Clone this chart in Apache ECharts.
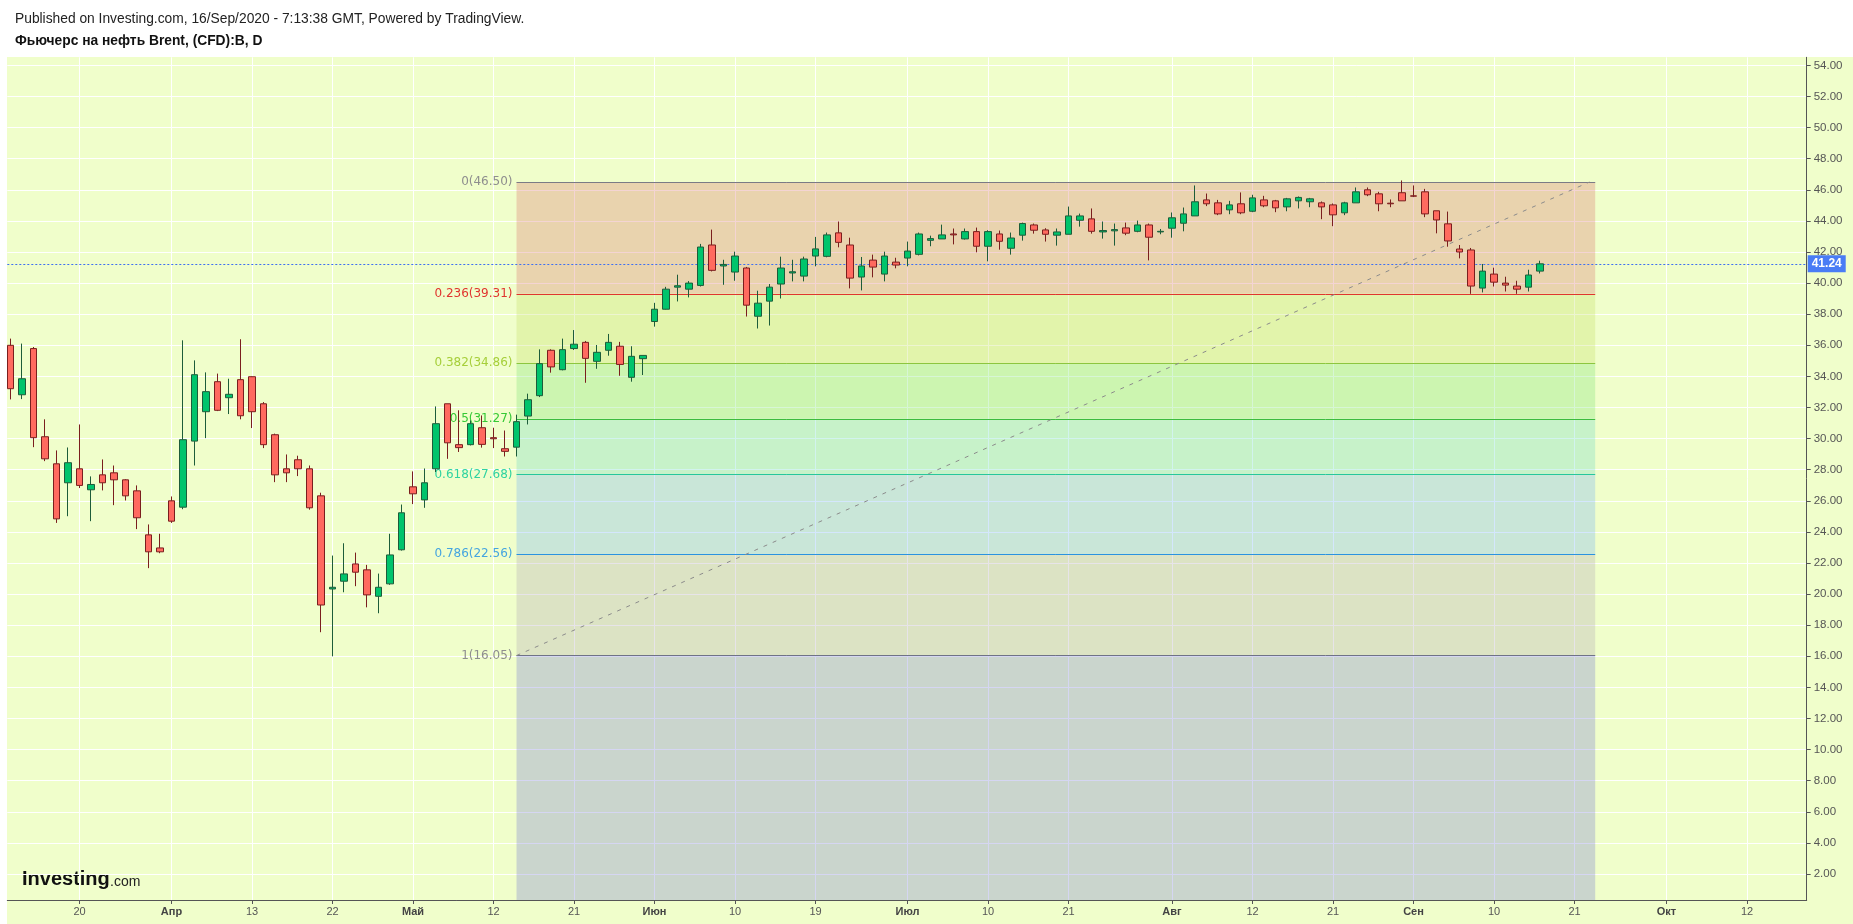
<!DOCTYPE html>
<html><head><meta charset="utf-8">
<script src="https://cdn.jsdelivr.net/npm/echarts@6/dist/echarts.min.js"></script>
<style>
html,body{margin:0;padding:0;background:#fff;}
#wrap{position:relative;width:1853px;height:924px;overflow:hidden;}
#panel{position:absolute;left:7px;top:57px;right:0;bottom:0;background:#F0FECB;}
#chart{position:absolute;left:0;top:0;width:1853px;height:924px;}
</style></head>
<body><div id="wrap"><div id="panel"></div><div id="chart"></div></div>
<script>
// ---- data ----
const dates = ['03-12','03-13','03-16','03-17','03-18','03-19','03-20','03-23','03-24','03-25','03-26','03-27','03-30','03-31',
'04-01','04-02','04-03','04-06','04-07','04-08','04-09','04-13','04-14','04-15','04-16','04-17','04-20','04-21','04-22','04-23','04-24','04-27','04-28','04-29','04-30',
'05-01','05-04','05-05','05-06','05-07','05-08','05-11','05-12','05-13','05-14','05-15','05-18','05-19','05-20','05-21','05-22','05-25','05-26','05-27','05-28','05-29',
'06-01','06-02','06-03','06-04','06-05','06-08','06-09','06-10','06-11','06-12','06-15','06-16','06-17','06-18','06-19','06-22','06-23','06-24','06-25','06-26','06-29','06-30',
'07-01','07-02','07-03','07-06','07-07','07-08','07-09','07-10','07-13','07-14','07-15','07-16','07-17','07-20','07-21','07-22','07-23','07-24','07-27','07-28','07-29','07-30','07-31',
'08-03','08-04','08-05','08-06','08-07','08-10','08-11','08-12','08-13','08-14','08-17','08-18','08-19','08-20','08-21','08-24','08-25','08-26','08-27','08-28','08-31',
'09-01','09-02','09-03','09-04','09-07','09-08','09-09','09-10','09-11','09-14','09-15','09-16'];
const firstIndex = -14; // trading-day index of the first candle (0 = 1 Apr)
const open = [36.00,32.82,35.79,30.12,28.38,27.16,28.06,26.71,27.67,27.80,27.35,26.64,23.81,22.97,
26.00,25.59,29.84,31.73,33.66,32.63,33.79,33.98,32.24,30.25,28.06,28.64,28.06,26.32,20.33,20.83,21.94,21.56,19.86,20.66,22.85,
26.90,26.06,28.06,32.24,29.61,29.61,30.70,30.06,29.35,29.45,31.45,32.76,35.68,34.43,35.79,36.19,34.97,35.68,35.94,33.94,35.14,
37.53,38.32,39.74,39.61,39.85,42.45,41.10,40.71,40.97,37.87,38.84,39.94,40.65,40.45,41.74,41.72,43.23,42.45,40.39,41.48,40.58,41.35,
41.61,41.85,42.75,42.84,43.16,42.84,43.31,42.37,43.16,42.24,43.08,43.74,43.42,43.08,43.14,44.04,44.13,43.29,43.36,43.55,43.33,43.74,43.29,
43.53,43.85,44.32,45.35,45.16,44.71,45.10,44.62,45.35,45.29,44.90,45.29,45.23,45.16,45.03,44.52,45.16,46.00,45.74,45.14,45.81,
45.61,45.87,44.65,43.81,42.19,42.13,39.68,40.58,40.00,39.81,39.74,40.77];
const high = [36.43,36.11,35.89,31.24,29.24,29.43,30.91,27.57,28.66,28.27,27.39,26.99,24.48,23.88,
26.28,36.32,35.03,34.26,34.18,33.85,36.39,34.00,32.35,30.32,28.98,28.90,28.27,26.52,22.48,23.27,22.67,21.88,21.32,23.88,25.76,
27.89,28.08,32.07,32.24,31.82,31.17,31.49,30.70,30.52,31.54,32.89,35.74,35.74,36.43,36.98,36.28,36.02,36.73,36.22,35.94,35.35,
38.73,39.76,40.54,40.13,42.52,43.44,41.50,42.02,41.04,39.51,39.94,41.70,41.50,41.70,42.97,43.25,43.96,42.92,41.68,41.83,42.02,41.63,
42.67,43.25,43.05,43.76,43.51,43.51,43.57,43.40,43.38,43.25,43.89,43.83,43.53,43.51,44.92,44.47,44.80,43.96,43.83,43.89,44.02,43.83,43.48,
44.54,44.86,46.28,45.76,45.35,45.29,45.83,45.68,45.61,45.35,45.48,45.57,45.48,45.25,45.12,45.23,46.15,46.15,45.87,45.38,46.60,
46.28,46.06,44.65,44.60,42.45,42.26,41.23,40.99,40.41,40.15,40.86,41.44];
const low = [32.52,32.54,29.45,28.55,24.58,25.01,26.82,24.69,26.67,25.72,26.02,24.18,21.67,22.63,
24.58,25.46,28.27,30.03,31.77,31.58,31.24,30.68,29.39,27.20,27.20,27.59,25.43,17.55,16.00,20.12,20.51,19.15,18.77,20.60,22.80,
25.79,25.55,27.85,28.70,29.14,29.56,29.42,29.39,28.85,28.85,30.91,32.67,34.24,34.39,35.70,33.59,34.49,35.33,34.04,33.66,34.09,
37.20,38.30,38.82,39.08,39.78,40.75,39.89,40.15,37.85,37.08,37.27,39.01,40.11,40.11,41.08,41.66,42.30,39.66,39.53,40.37,40.11,40.95,
41.08,41.78,42.37,42.84,42.49,42.80,41.98,41.40,42.15,41.83,42.73,43.18,42.67,42.41,43.14,43.63,43.18,42.86,42.41,43.08,43.27,41.46,43.14,
42.92,43.33,44.32,44.95,44.37,44.43,44.43,44.56,44.88,44.56,44.62,44.80,44.88,44.11,43.66,44.37,45.16,45.59,44.62,44.88,45.29,
45.53,44.24,43.20,42.34,41.59,39.31,39.40,39.78,39.46,39.31,39.46,40.62];
const close = [33.21,33.85,30.06,28.70,24.84,28.45,26.99,27.05,27.16,27.35,26.32,24.91,22.72,22.72,
24.69,29.93,34.11,33.02,31.82,32.85,31.47,31.73,29.61,27.67,27.80,28.06,25.55,19.30,20.44,21.30,21.41,19.95,20.44,22.52,25.23,
26.45,27.16,30.96,29.73,29.42,30.96,29.63,29.99,29.18,31.09,32.50,34.82,34.61,35.72,36.07,35.16,35.55,36.19,34.77,35.29,35.35,
38.32,39.61,39.83,40.00,42.32,40.82,41.20,41.74,38.58,38.71,39.74,40.97,40.73,41.55,42.20,43.10,42.62,40.32,41.10,41.03,41.74,41.16,
42.06,43.16,42.86,43.10,43.10,43.31,42.37,43.31,42.69,42.90,43.83,43.40,43.14,43.29,44.32,44.32,43.33,43.38,43.44,43.21,43.74,42.95,43.33,
44.20,44.45,45.23,45.10,44.45,45.03,44.52,45.48,44.97,44.84,45.42,45.51,45.42,44.90,44.39,45.16,45.87,45.68,45.10,45.10,45.29,
45.59,44.45,44.06,42.71,42.00,39.81,40.77,40.06,39.87,39.61,40.52,41.24];
const xTickIdx  = [-8, 0, 7, 14, 21, 28, 35, 42, 49, 56, 64, 71, 78, 87, 94, 101, 108, 115, 122, 130, 137];
const xTickText = ['20','Апр','13','22','Май','12','21','Июн','10','19','Июл','10','21','Авг','12','21','Сен','10','21','Окт','12'];
const monthLabels = ['Апр','Май','Июн','Июл','Авг','Сен','Окт'];
const yTicks = [2,4,6,8,10,12,14,16,18,20,22,24,26,28,30,32,34,36,38,40,42,44,46,48,50,52,54];
const fibRatios = ['0','0.236','0.382','0.5','0.618','0.786','1'];
const fibPrices = [46.50, 39.31, 34.86, 31.27, 27.68, 22.56, 16.05];
const fibStartIdx = 30, fibEndIdx = 123.8;
const lastPrice = 41.24;

// ---- styles ----
const X_MIN = -14.28, X_MAX = 142.19, Y_MIN = 0.33, Y_MAX = 54.52;
const fibLineColors  = ['#7b7b85','#e0352f','#8cc63f','#3dbb3d','#27c79c','#2a93e0','#6f7386'];
const fibLabelColors = ['#8e8e8e','#e0352f','#a6cf3a','#35c935','#2fd3a0','#45a5e0','#8e8e8e'];
const fibBandColors  = ['rgba(217,113,110,0.30)','rgba(197,222,100,0.30)','rgba(123,226,117,0.30)',
                        'rgba(107,216,200,0.30)','rgba(113,176,247,0.30)','rgba(177,166,183,0.30)','rgba(117,120,213,0.30)'];
const FONT = 'Liberation Sans, Arial, sans-serif';

const candleData = dates.map((d, k) => [k + firstIndex, open[k], close[k], low[k], high[k]]);

const bandBounds = fibPrices.concat([Y_MIN]);
const markAreaData = fibBandColors.map((c, k) => [
  {coord: [fibStartIdx, bandBounds[k]], itemStyle: {color: c}},
  {coord: [fibEndIdx, bandBounds[k + 1]]}
]);
const fibLines = fibPrices.map((p, k) => [
  {coord: [fibStartIdx, p], lineStyle: {color: fibLineColors[k], width: 1, type: 'solid'},
   label: {show: true, position: 'start', distance: 4, formatter: fibRatios[k] + '(' + p.toFixed(2) + ')',
           color: fibLabelColors[k], fontSize: 12, fontFamily: 'DejaVu Sans, sans-serif'}},
  {coord: [fibEndIdx, p]}
]);
const trendLine = [[
  {coord: [fibStartIdx, fibPrices[6]], lineStyle: {color: '#8a8a8a', width: 1, type: [4, 6]}, label: {show: false}},
  {coord: [fibEndIdx - 0.5, fibPrices[0]]}
]];
const priceLine = [[
  {coord: [X_MIN, lastPrice], lineStyle: {color: '#3d6ff2', width: 1, type: [2, 2]},
   label: {show: true, position: 'end', distance: 1, formatter: lastPrice.toFixed(2), color: '#fff',
           backgroundColor: '#4a7cf5', padding: [3, 4, 2, 4], fontSize: 12, fontWeight: 'bold', fontFamily: FONT}},
  {coord: [X_MAX, lastPrice]}
]];

const chart = echarts.init(document.getElementById('chart'), null, {renderer: 'canvas'});
chart.setOption({
  backgroundColor: 'transparent',
  animation: false,
  graphic: [
    {type: 'text', left: 15, top: 12, style: {text: 'Published on Investing.com, 16/Sep/2020 - 7:13:38 GMT, Powered by TradingView.', fill: '#222', font: '13.8px ' + FONT}},
    {type: 'text', left: 15, top: 34, style: {text: 'Фьючерс на нефть Brent, (CFD):B, D', fill: '#111', font: 'bold 13.8px ' + FONT}},
    {type: 'text', left: 22, top: 869, style: {text: 'Investing', fill: '#111', font: 'bold 20px ' + FONT}},
    {type: 'text', left: 110, top: 875, style: {text: '.com', fill: '#222', font: '14px ' + FONT}}
  ],
  grid: {left: 7.3, right: 46.3, top: 57.3, bottom: 24, containLabel: false},
  xAxis: {
    type: 'value', min: X_MIN, max: X_MAX,
    axisLine: {show: true, onZero: false, lineStyle: {color: '#555', width: 1}},
    axisTick: {show: true, customValues: xTickIdx, length: 4, lineStyle: {color: '#555'}},
    axisLabel: {
      customValues: xTickIdx, margin: 6, color: '#555', fontSize: 11, fontFamily: FONT,
      formatter: v => { const i = xTickIdx.indexOf(Math.round(v)); if (i < 0) return ''; const t = xTickText[i];
        return monthLabels.indexOf(t) >= 0 ? '{m|' + t + '}' : t; },
      rich: {m: {fontWeight: 'bold', color: '#444', fontSize: 11, fontFamily: FONT}}
    },
    splitLine: {show: true, lineStyle: {color: '#ffffff', width: 1}}
  },
  yAxis: {
    type: 'value', position: 'right', min: Y_MIN, max: Y_MAX, scale: true,
    axisLine: {show: true, onZero: false, lineStyle: {color: '#555', width: 1}},
    axisTick: {show: true, customValues: yTicks, length: 4, lineStyle: {color: '#555'}},
    axisLabel: {customValues: yTicks, margin: 7, color: '#555', fontSize: 11.5, fontFamily: FONT, formatter: v => v.toFixed(2)},
    splitLine: {show: true, lineStyle: {color: '#ffffff', width: 1}}
  },
  series: [
    {
      type: 'line', data: [], z: 1, silent: true,
      markArea: {silent: true, data: markAreaData},
      markLine: {silent: true, symbol: ['none', 'none'], animation: false, data: fibLines.concat(trendLine, priceLine)}
    },
    {
      type: 'candlestick', z: 5, data: candleData, barWidth: 7,
      encode: {x: 0, y: [1, 2, 3, 4]},
      itemStyle: {color: '#00C46C', color0: '#FF6A5F', borderColor: '#1d5c3a', borderColor0: '#7a1e1e',
                  borderColorDoji: '#6a1c1c', borderWidth: 1}
    }
  ]
});
</script>
</body></html>
